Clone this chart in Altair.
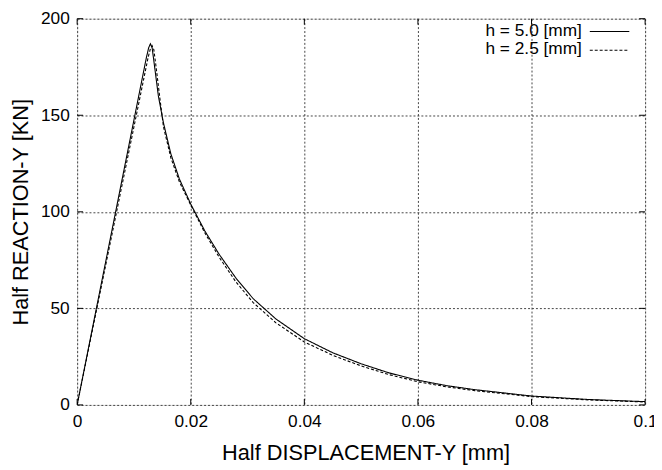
import altair as alt
import pandas as pd

# h = 5.0 [mm] (solid)
x_h50 = [0.0, 0.0122, 0.0126, 0.0129, 0.0132, 0.0136, 0.0143, 0.0152, 0.0165, 0.0180,
         0.0200, 0.0225, 0.0250, 0.0280, 0.0310, 0.0350, 0.0400, 0.0450, 0.0500, 0.0550,
         0.0600, 0.0650, 0.0700, 0.0800, 0.0900, 0.1000]
y_h50 = [0.0, 180.0, 185.0, 187.0, 185.0, 176.0, 160.0, 146.0, 130.0, 117.0,
         104.0, 90.0, 78.0, 65.5, 55.0, 44.5, 34.3, 27.0, 21.3, 16.5,
         12.8, 10.0, 7.9, 4.6, 2.8, 1.7]

# h = 2.5 [mm] (dashed)
x_h25 = [0.0, 0.0125, 0.0129, 0.0132, 0.0135, 0.0139, 0.0146, 0.0152, 0.0165, 0.0180,
         0.0200, 0.0225, 0.0250, 0.0280, 0.0310, 0.0350, 0.0400, 0.0450, 0.0500, 0.0550,
         0.0600, 0.0650, 0.0700, 0.0800, 0.0900, 0.1000]
y_h25 = [0.0, 180.0, 184.5, 186.0, 184.0, 175.0, 158.0, 144.0, 128.0, 115.5,
         103.5, 89.0, 76.5, 63.5, 53.0, 42.5, 32.6, 25.7, 20.2, 15.6,
         12.0, 9.4, 7.4, 4.3, 2.6, 1.5]

series_names = ["h = 5.0 [mm]", "h = 2.5 [mm]"]
x_ticks = [0, 0.02, 0.04, 0.06, 0.08, 0.1]
y_ticks = [0, 50, 100, 150, 200]

W, H = 575, 391
FONT = "Liberation Sans"

rows = []
for xv, yv in zip(x_h50, y_h50):
    rows.append({"x": xv, "y": yv, "series": series_names[0]})
for xv, yv in zip(x_h25, y_h25):
    rows.append({"x": xv, "y": yv, "series": series_names[1]})
df = pd.DataFrame(rows)

xscale = alt.Scale(domain=[0, 0.1], nice=False, zero=False)
yscale = alt.Scale(domain=[0, 200], nice=False, zero=False)

xaxis = alt.Axis(values=x_ticks, format="~g", grid=True, gridDash=[2, 2], gridColor="#444",
                 gridOpacity=1, ticks=False, domain=False, labelFontSize=17.5, labelFont=FONT,
                 labelColor="black", labelPadding=8, labelFlush=False,
                 title="Half DISPLACEMENT-Y [mm]", titleFont=FONT, titleFontSize=22,
                 titleFontWeight="normal", titleColor="black", titleX=292, titleY=55,
                 titleBaseline="alphabetic")
yaxis = alt.Axis(values=y_ticks, grid=True, gridDash=[2, 2], gridColor="#444",
                 gridOpacity=1, ticks=False, domain=False, labelFontSize=17.5, labelFont=FONT,
                 labelColor="black", labelPadding=8,
                 title="Half REACTION-Y [KN]", titleFont=FONT, titleFontSize=22,
                 titleFontWeight="normal", titleColor="black", titleX=-57, titleY=H / 2,
                 titleBaseline="middle", titleAngle=-90)

lines = alt.Chart(df).mark_line(color="black", strokeWidth=1.1, clip=True).encode(
    x=alt.X("x:Q", scale=xscale, axis=xaxis),
    y=alt.Y("y:Q", scale=yscale, axis=yaxis),
    strokeDash=alt.StrokeDash("series:N", scale=alt.Scale(domain=series_names,
                                                          range=[[1, 0], [3, 2]]),
                              legend=None),
    order=alt.Order("x:Q"),
)

# inward tick marks on all four sides
xt = pd.DataFrame({"t": x_ticks})
yt = pd.DataFrame({"t": y_ticks})
xt_bot = alt.Chart(xt).mark_rule(color="black", strokeWidth=1).encode(
    x=alt.X("t:Q", scale=xscale), y=alt.value(H), y2=alt.value(H - 6))
xt_top = alt.Chart(xt).mark_rule(color="black", strokeWidth=1).encode(
    x=alt.X("t:Q", scale=xscale), y=alt.value(0), y2=alt.value(6))
yt_left = alt.Chart(yt).mark_rule(color="black", strokeWidth=1).encode(
    y=alt.Y("t:Q", scale=yscale), x=alt.value(0), x2=alt.value(6))
yt_right = alt.Chart(yt).mark_rule(color="black", strokeWidth=1).encode(
    y=alt.Y("t:Q", scale=yscale), x=alt.value(W), x2=alt.value(W - 6))

# legend (gnuplot style: label then line sample)
leg = pd.DataFrame({"name": series_names, "row": [0, 1]})
leg_text_y = [12.5, 31.0]
leg_line_y = [13.0, 32.0]
legend_parts = []
for i, name in enumerate(series_names):
    sub = leg[leg["row"] == i]
    legend_parts.append(
        alt.Chart(sub).mark_text(align="right", baseline="middle", font=FONT,
                                 fontSize=17.5, color="black").encode(
            text="name:N", x=alt.value(511), y=alt.value(leg_text_y[i])))
    legend_parts.append(
        alt.Chart(sub).mark_rule(color="black", strokeWidth=1.1,
                                 strokeDash=[1, 0] if i == 0 else [3, 2]).encode(
            x=alt.value(519), x2=alt.value(559), y=alt.value(leg_line_y[i])))

chart = alt.layer(lines, xt_bot, xt_top, yt_left, yt_right, *legend_parts).properties(
    width=W, height=H,
    autosize=alt.AutoSizeParams(type="none"),
    padding={"left": 70, "top": 8, "right": 9, "bottom": 58},
).configure_view(stroke="black", strokeWidth=1.2).configure(background="white")

chart.save("out.html", embed_options={"renderer": "svg", "actions": False})
